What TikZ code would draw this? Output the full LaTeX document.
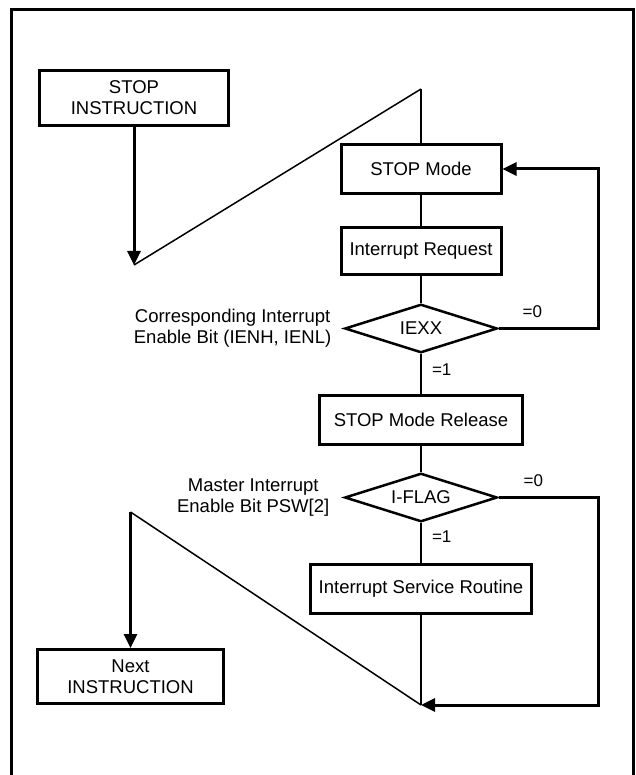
\documentclass[tikz,border=0pt]{standalone}
\usepackage{fontspec}
\setmainfont{Liberation Sans}
\usetikzlibrary{
  arrows.meta,
  positioning,
  shapes.geometric
}
\newcommand{\flowfont}{\fontsize{18.5}{21}\selectfont}
\tikzset{
  flowbox/.style={
    draw,
    line width=3pt,
    align=center,
    inner sep=2pt,
    minimum height=49pt,
    font=\flowfont
  },
  decision/.style={
    diamond,
    draw,
    line width=2.5pt,
    aspect=3,
    inner sep=1pt,
    minimum width=152.5pt,
    minimum height=48.5pt,
    font=\flowfont
  },
  flowline/.style={line width=2pt},
  thinline/.style={line width=1.5pt},
  flowarrow/.style={line width=3pt,-{Triangle[length=14pt,width=13pt]}},
  condlabel/.style={inner sep=0pt,font=\fontsize{17}{20}\selectfont},
  sidenote/.style={align=center,inner sep=0pt,font=\flowfont}
}

\begin{document}
\begin{tikzpicture}[x=1pt,y=-1pt]
  \useasboundingbox (0,0) rectangle (635,775);
  % outer frame, open at the bottom
  \draw[line width=3pt] (11,775) -- (11,10) -- (633,10) -- (633,775);

  \node[flowbox,minimum width=189pt,minimum height=55pt] (stopinst) at (134,98) {STOP\\INSTRUCTION};
  \node[flowbox,minimum width=160pt] (stopmode) at (421,169) {STOP Mode};
  \node[flowbox,minimum width=160pt,minimum height=47pt,below=31pt of stopmode] (intreq) {Interrupt Request};
  \node[decision,below=27pt of intreq] (iexx) {IEXX};
  \node[flowbox,minimum width=203pt,below=40pt of iexx] (release) {STOP Mode Release};
  \node[decision,below=26pt of release] (iflag) {I-FLAG};
  \node[flowbox,minimum width=221pt,below=40pt of iflag] (isr) {Interrupt Service Routine};
  \node[flowbox,minimum width=186pt,minimum height=54pt] (next) at (130.5,676.5) {Next\\INSTRUCTION};

  \node[sidenote,left=12pt of iexx] (iexxnote) {Corresponding Interrupt\\Enable Bit (IENH, IENL)};
  \node[sidenote,left=14pt of iflag] (iflagnote) {Master Interrupt\\Enable Bit PSW[2]};

  \coordinate (stoptip) at (stopinst.south |- 0,265);
  \coordinate (peak) at (stopmode.north |- 0,89);
  \coordinate (rail) at (598,0);
  \coordinate (join) at (isr.south |- 0,705);
  \coordinate (nexttop) at (next.north |- 0,512);

  \draw[flowarrow] (stopinst) -- (stoptip);
  \draw[thinline] (stoptip) -- (peak);
  \draw[flowline] (peak) -- (stopmode);
  \draw[flowline] (stopmode) -- (intreq);
  \draw[flowline] (intreq) -- (iexx);
  \draw[flowline] (iexx) -- node[condlabel,right=10pt,pos=0.4] {=1} (release);
  \draw[flowline] (release) -- (iflag);
  \draw[flowline] (iflag) -- node[condlabel,right=10pt,pos=0.35] {=1} (isr);

  \draw[flowarrow] (iexx.east) -- node[condlabel,above=9pt,pos=0.34] {=0} (iexx.east -| rail)
    -- (stopmode.east -| rail) -- (stopmode.east);
  \draw[flowarrow] (iflag.east) -- node[condlabel,above=9pt,pos=0.35] {=0} (iflag.east -| rail)
    -- (rail |- join) -- (join);

  \draw[thinline] (isr) -- (join);
  \draw[thinline] (join) -- (nexttop);
  \draw[flowarrow] (nexttop) -- (next);
\end{tikzpicture}
\end{document}
